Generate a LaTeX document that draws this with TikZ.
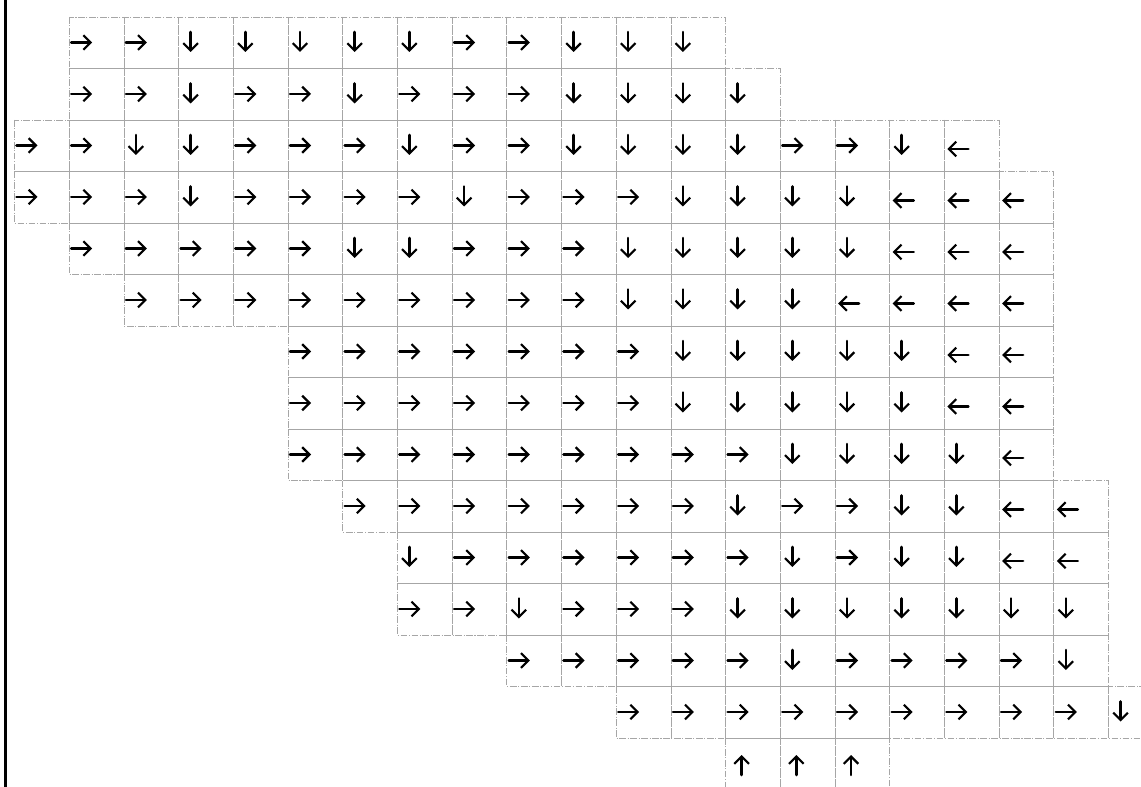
\documentclass[tikz,border=0pt]{standalone}
\usetikzlibrary{arrows.meta}
\tikzset{
  cellbox/.style={draw=gray!70, line width=0.5pt, dash pattern=on 5pt off 1.2pt on 0.8pt off 1.2pt},
  flowarrow/.style={draw=black, line width=1.9pt, line cap=round,
    -{Straight Barb[length=5.5pt,width=11pt,line width=1.6pt]}},
  borderline/.style={draw=black, line width=2pt}
}
\def\cw{54.7}
\def\ch{51.5}
\def\ox{14.5}
\def\oy{17}
\newcommand\arrR[2]{\draw[flowarrow] (#1+2,#2+25.5) -- (#1+23,#2+25.5);}
\newcommand\arrL[2]{\draw[flowarrow] (#1+24,#2+29) -- (#1+3,#2+29);}
\newcommand\arrD[2]{\draw[flowarrow] (#1+12,#2+15) -- (#1+12,#2+35);}
\newcommand\arrU[2]{\draw[flowarrow] (#1+16,#2+37) -- (#1+16,#2+17);}
\begin{document}
\begin{tikzpicture}[x=0.75pt,y=-0.75pt]
\useasboundingbox (0,0) rectangle (1141,787);
\clip (0,0) rectangle (1141,787);
\fill[white] (0,0) rectangle (1141,787);
\foreach \r/\s/\lst in {
  0/1/{R,R,D,D,D,D,D,R,R,D,D,D},
  1/1/{R,R,D,R,R,D,R,R,R,D,D,D,D},
  2/0/{R,R,D,D,R,R,R,D,R,R,D,D,D,D,R,R,D,L},
  3/0/{R,R,R,D,R,R,R,R,D,R,R,R,D,D,D,D,L,L,L},
  4/1/{R,R,R,R,R,D,D,R,R,R,D,D,D,D,D,L,L,L},
  5/2/{R,R,R,R,R,R,R,R,R,D,D,D,D,L,L,L,L},
  6/5/{R,R,R,R,R,R,R,D,D,D,D,D,L,L},
  7/5/{R,R,R,R,R,R,R,D,D,D,D,D,L,L},
  8/5/{R,R,R,R,R,R,R,R,R,D,D,D,D,L},
  9/6/{R,R,R,R,R,R,R,D,R,R,D,D,L,L},
  10/7/{D,R,R,R,R,R,R,D,R,D,D,L,L},
  11/7/{R,R,D,R,R,R,D,D,D,D,D,D,D},
  12/9/{R,R,R,R,R,D,R,R,R,R,D},
  13/11/{R,R,R,R,R,R,R,R,R,D},
  14/13/{U,U,U}}{
  \foreach \d [count=\k] in \lst {
    \pgfmathsetmacro\xx{\ox+\cw*(\s+\k-1)}
    \pgfmathsetmacro\yy{\oy+\ch*\r}
    \draw[cellbox] (\xx,\yy) rectangle ++(\cw,\ch);
    \csname arr\d\endcsname{\xx}{\yy}
  }
}
\draw[borderline] (5.5,0) -- (5.5,787);
\end{tikzpicture}
\end{document}
